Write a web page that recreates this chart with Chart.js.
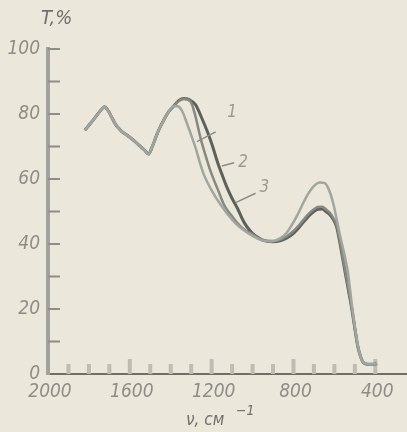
<!DOCTYPE html>
<html>
<head>
<meta charset="utf-8">
<script src="https://cdn.jsdelivr.net/npm/chart.js@4"></script>
<style>
  html, body { margin: 0; padding: 0; background: #ebe7da; }
  #wrap { width: 407px; height: 432px; }
</style>
</head>
<body>
<div id="wrap"><canvas id="spectrum" width="407" height="432"></canvas></div>
<script>
// IR transmission spectra, three samples (T, % vs wavenumber, cm-1)
const wn1 = [1820, 1790, 1760, 1740, 1724, 1710, 1690, 1670, 1650, 1639, 1610, 1580, 1557, 1530, 1508, 1490, 1470, 1459, 1430, 1410, 1385, 1365, 1345, 1320, 1300, 1278, 1255, 1237, 1200, 1155, 1100, 1057, 1000, 957, 910, 870, 834, 785, 736, 700, 670, 650, 630, 606, 590, 573, 550, 534, 514, 500, 485, 470, 460, 440, 420, 400, 393];
const t1  = [75.0, 77.3, 79.7, 81.3, 82.2, 81.4, 79.2, 76.8, 75.3, 74.6, 73.3, 71.8, 70.5, 69.0, 67.7, 70.0, 73.3, 75.0, 78.6, 80.7, 82.5, 82.4, 81.0, 77.0, 73.5, 69.5, 64.5, 61.2, 56.5, 52.0, 47.5, 44.9, 42.5, 41.2, 40.8, 41.6, 43.4, 48.4, 54.6, 57.8, 58.9, 58.8, 57.2, 52.6, 48.0, 42.8, 36.5, 31.4, 21.0, 14.5, 8.5, 5.0, 3.8, 3.1, 3.0, 3.0, 3.3];

const wn2 = [1820, 1790, 1760, 1740, 1724, 1710, 1690, 1670, 1650, 1639, 1610, 1580, 1557, 1530, 1508, 1490, 1470, 1459, 1430, 1410, 1385, 1360, 1336, 1303, 1280, 1254, 1230, 1204, 1170, 1139, 1100, 1065, 1030, 1008, 980, 952, 903, 870, 834, 800, 770, 745, 721, 700, 681, 660, 640, 622, 605, 589, 575, 558, 535, 514, 500, 485, 470, 460, 440, 420, 400, 393];
const t2  = [75.0, 77.3, 79.7, 81.3, 82.2, 81.4, 79.2, 76.8, 75.3, 74.6, 73.3, 71.8, 70.5, 69.0, 67.7, 70.0, 73.3, 75.0, 78.6, 80.7, 82.5, 84.0, 84.6, 83.8, 79.5, 72.5, 67.3, 62.2, 56.8, 52.0, 48.5, 45.8, 44.0, 43.3, 42.2, 41.3, 40.9, 41.2, 42.3, 44.0, 46.0, 47.9, 49.6, 50.7, 51.4, 51.5, 50.6, 49.6, 48.0, 45.8, 41.8, 35.6, 27.5, 20.0, 14.2, 8.5, 5.1, 3.8, 3.0, 3.0, 3.0, 3.3];

const wn3 = [1820, 1790, 1760, 1740, 1724, 1710, 1690, 1670, 1650, 1639, 1610, 1580, 1557, 1530, 1508, 1490, 1470, 1459, 1430, 1410, 1385, 1360, 1336, 1310, 1278, 1250, 1221, 1195, 1172, 1150, 1123, 1100, 1074, 1040, 1008, 980, 952, 903, 870, 834, 800, 770, 745, 721, 700, 681, 660, 640, 622, 605, 589, 575, 558, 535, 514, 500, 485, 470, 460, 440, 420, 400, 393];
const t3  = [75.0, 77.3, 79.7, 81.3, 82.2, 81.4, 79.2, 76.8, 75.3, 74.6, 73.3, 71.8, 70.5, 69.0, 67.7, 70.0, 73.3, 75.0, 78.6, 80.7, 82.5, 84.2, 84.8, 84.4, 82.8, 79.0, 74.6, 70.0, 65.3, 61.5, 57.1, 54.0, 51.0, 46.5, 43.8, 42.3, 41.2, 40.7, 40.9, 41.8, 43.3, 45.3, 47.2, 48.9, 50.0, 50.7, 50.8, 49.9, 49.0, 47.5, 45.3, 41.0, 35.0, 27.0, 19.7, 14.0, 8.3, 5.0, 3.7, 3.0, 3.0, 3.0, 3.3];

const curveNames = ['1', '2', '3'];
const xTickValues = [1900, 1800, 1700, 1600, 1500, 1400, 1300, 1200, 1100, 1000, 900, 800, 700, 600, 500, 400];
const xLabelValues = [2000, 1600, 1200, 800, 400];
const yLabelValues = [0, 20, 40, 60, 80, 100];

// where the curve numbers and their leader lines sit (wavenumber, T)
const curveMarks = [
  { text: '1', at: [1100, 80.3], leader: [[1272, 71.5], [1180, 74.5]] },
  { text: '2', at: [1046, 64.9], leader: [[1150, 64.0], [1090, 65.0]] },
  { text: '3', at: [942, 57.3], leader: [[1080, 52.8], [985, 55.6]] }
];

const toPoints = (xs, ys) => xs.map((x, i) => ({ x: x, y: ys[i] }));

const paperFont = "'DejaVu Sans Condensed', 'DejaVu Sans', sans-serif";

const decor = {
  id: 'decor',
  beforeDraw(chart) {
    const c = chart.ctx;
    c.save();
    c.fillStyle = '#ebe7da';
    c.fillRect(0, 0, chart.width, chart.height);
    c.restore();
  },
  beforeDatasetsDraw(chart) {
    const c = chart.ctx;
    const xs = chart.scales.x, ys = chart.scales.y;
    const area = chart.chartArea;
    c.save();
    // inward x ticks
    c.strokeStyle = '#bebdb4';
    c.lineWidth = 4;
    xTickValues.forEach(v => {
      const px = xs.getPixelForValue(v);
      const len = (v % 400 === 0) ? 15 : 10;
      c.beginPath();
      c.moveTo(px, area.bottom);
      c.lineTo(px, area.bottom - len);
      c.stroke();
    });
    // inward y ticks
    c.strokeStyle = '#8e8e88';
    c.lineWidth = 2;
    for (let v = 10; v <= 100; v += 10) {
      const py = ys.getPixelForValue(v);
      c.beginPath();
      c.moveTo(area.left, py);
      c.lineTo(area.left + 12, py);
      c.stroke();
    }
    c.restore();
  },
  afterDraw(chart) {
    const c = chart.ctx;
    const xs = chart.scales.x, ys = chart.scales.y;
    c.save();
    c.fillStyle = '#6f706b';
    c.textBaseline = 'middle';
    c.textAlign = 'left';
    c.font = 'italic 20px ' + paperFont;
    c.fillText('T,%', 41, 19);
    c.font = 'italic 17px ' + paperFont;
    c.fillText('ν, см', 186, 421);
    c.font = 'italic 14px ' + paperFont;
    c.fillText('−1', 236, 411);

    // curve numbers with leaders
    c.strokeStyle = '#8a8c85';
    c.lineWidth = 1.5;
    c.fillStyle = '#9a9b94';
    c.font = 'italic 17px ' + paperFont;
    c.textAlign = 'center';
    curveMarks.forEach(m => {
      c.beginPath();
      c.moveTo(xs.getPixelForValue(m.leader[0][0]), ys.getPixelForValue(m.leader[0][1]));
      c.lineTo(xs.getPixelForValue(m.leader[1][0]), ys.getPixelForValue(m.leader[1][1]));
      c.stroke();
      c.fillText(m.text, xs.getPixelForValue(m.at[0]), ys.getPixelForValue(m.at[1]));
    });
    c.restore();
  }
};

new Chart(document.getElementById('spectrum'), {
  type: 'line',
  data: {
    datasets: [
      { label: curveNames[0], data: toPoints(wn1, t1), borderColor: '#a2a59d', borderWidth: 2.5 },
      { label: curveNames[1], data: toPoints(wn2, t2), borderColor: '#858981', borderWidth: 2.5 },
      { label: curveNames[2], data: toPoints(wn3, t3), borderColor: '#5c615a', borderWidth: 3 }
    ]
  },
  options: {
    responsive: false,
    animation: false,
    events: [],
    elements: { point: { radius: 0 }, line: { cubicInterpolationMode: 'monotone', fill: false } },
    layout: { padding: { top: 49, right: 0, left: 0, bottom: 0 } },
    plugins: { legend: { display: false }, tooltip: { enabled: false } },
    scales: {
      x: {
        type: 'linear',
        reverse: true,
        min: 245,
        max: 2000,
        afterBuildTicks: axis => { axis.ticks = xLabelValues.map(v => ({ value: v })); },
        afterFit: axis => { axis.height = 58; },
        grid: { display: false, drawTicks: false },
        border: { display: true, color: '#6f6f6a', width: 2 },
        ticks: {
          autoSkip: false,
          maxRotation: 0,
          padding: 7,
          labelOffset: 2,
          color: '#8d8d88',
          font: { family: paperFont, size: 19, style: 'italic' },
          callback: v => String(v)
        }
      },
      y: {
        min: 0,
        max: 100,
        afterBuildTicks: axis => { axis.ticks = yLabelValues.map(v => ({ value: v })); },
        afterFit: axis => { axis.width = 48; },
        grid: { display: false, drawTicks: false },
        border: { display: true, color: '#a3a39d', width: 4 },
        ticks: {
          padding: 8,
          color: '#8d8d88',
          font: { family: paperFont, size: 19, style: 'italic' },
          callback: v => String(v)
        }
      }
    }
  },
  plugins: [decor]
});
</script>
</body>
</html>
